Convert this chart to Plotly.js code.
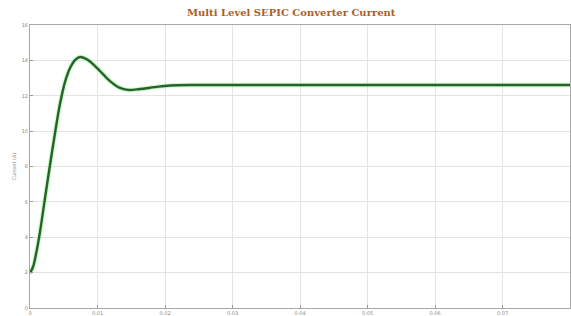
<!DOCTYPE html>
<html>
<head>
<meta charset="utf-8">
<script src="https://cdn.plot.ly/plotly-3.0.1.min.js"></script>
<style>html,body{margin:0;padding:0;background:#fff;}#chart{width:571px;height:316px;}</style>
</head>
<body>
<div id="chart"></div>
<script>
// time (s)
var timeS = [0, 0.000444, 0.000889, 0.00148, 0.00207, 0.00267, 0.00326, 0.00385, 0.00444, 0.00519, 0.00593, 0.00667, 0.00741, 0.00859, 0.00963, 0.01037, 0.01185, 0.01333, 0.01452, 0.0163, 0.01852, 0.02074, 0.02519, 0.08];
// current (A)
var currentA = [1.98, 2.32, 3.05, 4.30, 5.82, 7.35, 8.82, 10.23, 11.53, 12.78, 13.57, 14.02, 14.19, 14.02, 13.68, 13.40, 12.83, 12.44, 12.33, 12.38, 12.49, 12.58, 12.61, 12.61];
var xTicks = [0, 0.01, 0.02, 0.03, 0.04, 0.05, 0.06, 0.07, 0.08];
var yTicks = [0, 2, 4, 6, 8, 10, 12, 14, 16];

var glow = {x: timeS, y: currentA, mode: 'lines', line: {shape: 'spline', smoothing: 1, color: 'rgba(120,255,120,0.45)', width: 4.5}, hoverinfo: 'skip', showlegend: false};
var main = {x: timeS, y: currentA, mode: 'lines', line: {shape: 'spline', smoothing: 1, color: '#2c5f2e', width: 2.4}, showlegend: false};

var axisCommon = {
  showgrid: true, gridcolor: '#e4e4e4', gridwidth: 1,
  showline: true, linecolor: '#a8a8a8', linewidth: 1, mirror: true,
  ticks: 'inside', ticklen: 3, tickcolor: '#999',
  tickfont: {family: 'DejaVu Sans', size: 5, color: '#888'},
  zeroline: false
};

var layout = {
  width: 571, height: 316,
  margin: {l: 30, r: 1, t: 25, b: 8},
  paper_bgcolor: '#fff', plot_bgcolor: '#fff',
  title: {text: '<b>Multi Level SEPIC Converter Current</b>', x: 0.51, xanchor: 'center', y: 0.962, yanchor: 'middle',
          font: {family: 'DejaVu Serif', size: 10, color: '#ad5e28'}},
  xaxis: Object.assign({}, axisCommon, {range: [0, 0.08], tickvals: xTicks, ticktext: xTicks.map(String)}),
  yaxis: Object.assign({}, axisCommon, {range: [0, 16], tickvals: yTicks, ticktext: yTicks.map(String),
          title: {text: 'Current (A)', standoff: 4, font: {family: 'DejaVu Sans', size: 5, color: '#888'}}})
};

Plotly.newPlot('chart', [glow, main], layout, {displayModeBar: false, staticPlot: true});
</script>
</body>
</html>
